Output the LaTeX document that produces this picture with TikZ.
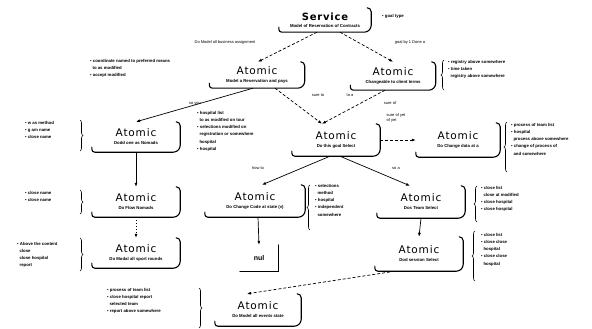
\documentclass[tikz,border=0pt]{standalone}
\usepackage{fontspec}
\setmainfont{Liberation Sans}
\newfontfamily\titlefont[LetterSpace=8]{DejaVu Sans}
\usetikzlibrary{arrows.meta,decorations.pathreplacing}
\newcommand\ttl[1]{{\titlefont\mdseries\fontsize{10.5}{11}\selectfont #1}}
\newcommand\sttl[1]{{\titlefont\bfseries\fontsize{10}{11}\selectfont #1}}
\tikzset{
  atom/.style={inner sep=0pt,align=center,font=\fontsize{4.3}{6}\selectfont\bfseries},
  note/.style={inner sep=0pt,align=left,anchor=north west,font=\fontsize{4.3}{7.2}\selectfont\bfseries},
  lbl/.style={inner sep=0pt,font=\fontsize{4}{5}\selectfont},
  frm/.style={line width=1.1pt,line cap=round},
  arr/.style={-{Latex[length=4pt,width=3pt]},line width=0.7pt},
  dsh/.style={dash pattern=on 3pt off 2pt},
  dot/.style={dash pattern=on 1pt off 2pt},
  brc/.style={decorate,decoration={brace,amplitude=3pt},line width=0.6pt},
}
\newcommand\atomframe[1]{%
  \draw[frm] ([yshift=5pt]#1.south west) [rounded corners=3pt]-- (#1.south west) [rounded corners=7pt]-- (#1.south east) [rounded corners=4pt]-- (#1.north east) -- ([xshift=-4pt]#1.north east);}
\begin{document}
\begin{tikzpicture}[x=1pt,y=-1pt]
\useasboundingbox[fill=white] (0,0) rectangle (592,329);

% nodes
\node[atom,minimum width=92pt,minimum height=24pt] (svc) at (325,20) {\sttl{Service}\\[1.5pt] Model of Reservation of Contracts};
\node[atom,minimum width=95pt,minimum height=26pt] (a1) at (257,75) {\ttl{Atomic}\\[2pt] Model a Reservation and pays};
\node[atom,minimum width=85pt,minimum height=28pt] (a2) at (393,76) {\ttl{Atomic}\\[2pt] Changeable to client terms};
\node[atom,minimum width=88pt,minimum height=30pt] (a3) at (136,137) {\ttl{Atomic}\\[2pt] Dodd one as Nomads};
\node[atom,minimum width=88pt,minimum height=32pt] (a4) at (336,140) {\ttl{Atomic}\\[2pt] Do this goal Select};
\node[atom,minimum width=84pt,minimum height=34pt] (a5) at (458,140) {\ttl{Atomic}\\[2pt] Do Change data at a};
\node[atom,minimum width=88pt,minimum height=30pt] (a6) at (136,202) {\ttl{Atomic}\\[2pt] Do Flow Nomads};
\node[atom,minimum width=100pt,minimum height=32pt] (a7) at (255,201) {\ttl{Atomic}\\[2pt] Do Change Code at state (v)};
\node[atom,minimum width=88pt,minimum height=32pt] (a8) at (421,202) {\ttl{Atomic}\\[2pt] Dos Team Select};
\node[atom,minimum width=88pt,minimum height=34pt] (a9) at (419,254) {\ttl{Atomic}\\[2pt] Dod session Select};
\node[atom,minimum width=88pt,minimum height=30pt] (a10) at (136,253) {\ttl{Atomic}\\[2pt] Do Modal all sport rounds};
\node[atom,minimum width=86pt,minimum height=32pt] (a11) at (258,310) {\ttl{Atomic}\\[2pt] Do Model all events state};
\node[inner sep=0pt,minimum width=38pt,minimum height=26pt,font=\fontsize{7}{8}\selectfont\bfseries] (nul) at (259,258) {nul};

\foreach \n in {svc,a1,a2,a3,a4,a5,a6,a7,a8,a9,a10,a11} {\atomframe{\n}}
\draw[frm] (nul.south west) -- (nul.south east) -- (nul.north east);

% connectors
\draw[arr,dsh] ([xshift=-8pt]svc.south) -- ([xshift=1pt]a1.north);
\draw[arr,dsh] ([xshift=15pt]svc.south) -- (a2.north);
\draw[arr] ([xshift=-4pt]a1.south) -- (a3.north);
\draw[arr,dsh] ([xshift=18pt]a1.south) -- ([xshift=-14pt]a4.north);
\draw[arr,dsh] ([xshift=-8pt]a2.south) -- ([xshift=-14pt]a4.north);
\draw[arr,dsh] (a4.east) -- (a5.west);
\draw[arr] ([xshift=-6pt]a4.south) -- ([xshift=7pt]a7.north);
\draw[arr] ([xshift=4pt]a4.south) -- ([xshift=-11pt]a8.north);
\draw[arr] (a3.south) -- (a6.north);
\draw[arr,dot] (a6.south) -- (a10.north);
\draw[arr] ([xshift=3pt]a7.south) -- (nul.north);
\draw[arr] (a8.south) -- (a9.north);
\draw[arr,dsh] ([xshift=-24pt]a9.south) -- ([xshift=-11pt]a11.north);

% edge labels
\node[lbl] (l1) at (225,42) {Do Model all business assignment};
\node[lbl] (l2) at (410,42) {goal by 1 Done a};
\node[lbl] (l3) at (195,104) {so you};
\node[lbl] (l4) at (318,95) {sure to};
\node[lbl] (l5) at (350,95) {to a};
\node[lbl] (l6) at (390,103) {sure of};
\node[lbl,align=left] (l7) at (396,118) {sure of yet\\of yet};
\node[lbl] (l8) at (258,168) {how to};
\node[lbl] (l9) at (396,168) {so a};

% notes
\node[note,anchor=west] (n0) at (382,16) {\textbullet\ goal type};
\node[note] (n1) at (90,59) {\textbullet\ coordinate named to preferred means\\\ \ to as modified\\\textbullet\ accept modified};
\node[note] (n2) at (448,60) {\textbullet\ registry above somewhere\\\textbullet\ time taken\\\ \ registry above somewhere};
\node[note] (n3) at (25,121) {\textbullet\ w as method\\\textbullet\ g am name\\\textbullet\ close name};
\node[note] (n4) at (197,111) {\textbullet\ hospital list\\\ \ to as modified on tour\\\textbullet\ selections modified on\\\ \ registration or somewhere\\\ \ hospital\\\textbullet\ hospital};
\node[note] (n5) at (511,123) {\textbullet\ process of team list\\\textbullet\ hospital\\\ \ process above somewhere\\\textbullet\ change of process of\\\ \ and somewhere};
\node[note] (n6) at (25,191) {\textbullet\ close name\\\textbullet\ close name};
\node[note] (n7) at (315,184) {\textbullet\ selections\\\ \ method\\\textbullet\ hospital\\\textbullet\ independent\\\ \ somewhere};
\node[note] (n8) at (481,186) {\textbullet\ close list\\\ \ close at modified\\\textbullet\ close hospital\\\textbullet\ close hospital};
\node[note] (n9) at (481,233) {\textbullet\ close list\\\textbullet\ close close\\\ \ hospital\\\textbullet\ close close\\\ \ hospital};
\node[note] (n10) at (17,242) {\textbullet\ Above the content\\\ \ close\\\ \ close hospital\\\ \ report};
\node[note] (n11) at (107,288) {\textbullet\ process of team list\\\textbullet\ close hospital report\\\ \ selected team\\\textbullet\ report above somewhere};

% braces
\draw[brc] (80,120) -- (80,151);
\draw[brc] (80,190) -- (80,214);
\draw[brc] (80,238) -- (80,271);
\draw[brc] (199,288) -- (199,328);
\draw[brc] (444,90) -- (444,60);
\draw[brc] (507,172) -- (507,122);
\draw[brc] (310,230) -- (310,185);
\draw[brc] (477,222) -- (477,186);
\draw[brc] (475,281) -- (475,231);
\end{tikzpicture}
\end{document}
